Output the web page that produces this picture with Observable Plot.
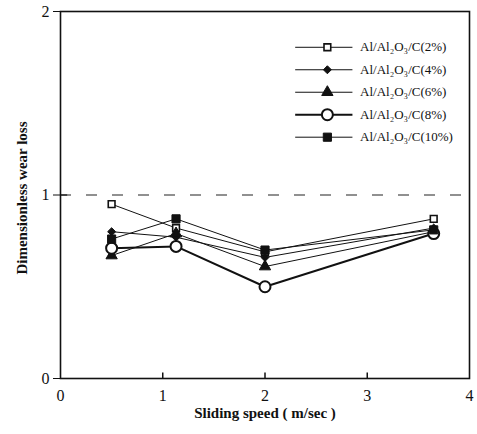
<!DOCTYPE html>
<html>
<head>
<meta charset="utf-8">
<script src="https://cdn.jsdelivr.net/npm/d3@7"></script>
<script src="https://cdn.jsdelivr.net/npm/@observablehq/plot@0.6"></script>
<style>
  html, body { margin: 0; padding: 0; background: #fff; }
  svg { font-family: "Liberation Serif", "DejaVu Serif", serif; }
</style>
</head>
<body>
<div id="chart"></div>
<script>
// ---- data ----
const speeds = [0.5, 1.13, 2.0, 3.65];
const seriesNames = ["Al/Al₂O₃/C(2%)", "Al/Al₂O₃/C(4%)", "Al/Al₂O₃/C(6%)", "Al/Al₂O₃/C(8%)", "Al/Al₂O₃/C(10%)"];
const wear2 = [0.95, 0.82, 0.69, 0.87];
const wear4 = [0.80, 0.77, 0.66, 0.82];
const wear6 = [0.67, 0.79, 0.61, 0.80];
const wear8 = [0.71, 0.72, 0.50, 0.79];
const wear10 = [0.76, 0.87, 0.70, 0.81];
const xTicks = [0, 1, 2, 3, 4];
const yTicks = [0, 1, 2];
const referenceLevel = [1];
const xLabel = "Sliding speed ( m/sec )";
const yLabel = "Dimensionless wear loss";

// ---- styles per series ----
const styles = [
  {symbol: "square", fill: "white", stroke: "#111", r: 3.8, sw: 1.6, lw: 1},
  {symbol: "diamond2", fill: "#111", stroke: "#111", r: 3.6, sw: 1, lw: 1},
  {symbol: "triangle", fill: "#111", stroke: "#111", r: 4.2, sw: 1, lw: 1},
  {symbol: "circle", fill: "white", stroke: "#111", r: 5.5, sw: 2, lw: 2},
  {symbol: "square", fill: "#111", stroke: "#111", r: 4.6, sw: 1, lw: 1}
];
const allWear = [wear2, wear4, wear6, wear8, wear10];
const rows = allWear.map((vals, s) => speeds.map((x, i) => ({series: seriesNames[s], x, y: vals[i]})));

// legend layout (data units of the frame)
const legend = seriesNames.map((name, i) => ({name, i, y: 1.805 - i * 0.1225}));
const legX1 = 2.30, legX2 = 2.86, legXm = 2.61, legXt = 2.93;

const marks = [
  Plot.ruleY(referenceLevel, {stroke: "#222", strokeWidth: 1.2, strokeDasharray: "11,15"}),
];
rows.forEach((data, s) => {
  const st = styles[s];
  marks.push(Plot.line(data, {x: "x", y: "y", stroke: "#111", strokeWidth: st.lw}));
});
rows.forEach((data, s) => {
  const st = styles[s];
  marks.push(Plot.dot(data, {x: "x", y: "y", symbol: () => st.symbol, r: st.r, fill: st.fill, stroke: st.stroke, strokeWidth: st.sw}));
});
// legend
legend.forEach((d) => {
  const st = styles[d.i];
  marks.push(Plot.ruleY([d], {x1: legX1, x2: legX2, y: "y", stroke: "#111", strokeWidth: st.lw}));
  marks.push(Plot.dot([d], {x: legXm, y: "y", symbol: () => st.symbol, r: st.r, fill: st.fill, stroke: st.stroke, strokeWidth: st.sw}));
  marks.push(Plot.text([d], {x: legXt, y: "y", text: "name", textAnchor: "start", fontSize: 13, fill: "#111"}));
});
marks.push(
  Plot.frame({stroke: "#111", strokeWidth: 1.6}),
  Plot.axisY(yTicks, {anchor: "left", tickSize: 7, tickPadding: 4, fontSize: 16, tickFormat: d3.format("d"), label: null, stroke: "#111", color: "#111"}),
  Plot.axisX(xTicks, {anchor: "bottom", tickSize: 0, tickPadding: 11, fontSize: 16, tickFormat: d3.format("d"), label: null, color: "#111"}),
  Plot.ruleX([1, 2, 3], {y1: 0, y2: 0.03, stroke: "#111", strokeWidth: 1.5}),
  Plot.ruleY([1], {x1: 0, x2: 0.07, stroke: "#111", strokeWidth: 1.2}),
  Plot.text([xLabel], {frameAnchor: "bottom", lineAnchor: "middle", dy: 35, fontSize: 15, fontWeight: "bold", fill: "#111"}),
  Plot.text([yLabel], {frameAnchor: "left", textAnchor: "middle", lineAnchor: "middle", rotate: -90, dx: -38, dy: 3, fontSize: 15, fontWeight: "bold", fill: "#111"})
);

const chart = Plot.plot({
  width: 477,
  height: 434,
  marginLeft: 60,
  marginRight: 8,
  marginTop: 11,
  marginBottom: 56,
  x: {domain: [0, 4], axis: null},
  y: {domain: [0, 2], axis: null},
  style: {fontFamily: "'Liberation Serif', serif", background: "white", color: "#111"},
  marks
});
document.getElementById("chart").appendChild(chart);
</script>
</body>
</html>
